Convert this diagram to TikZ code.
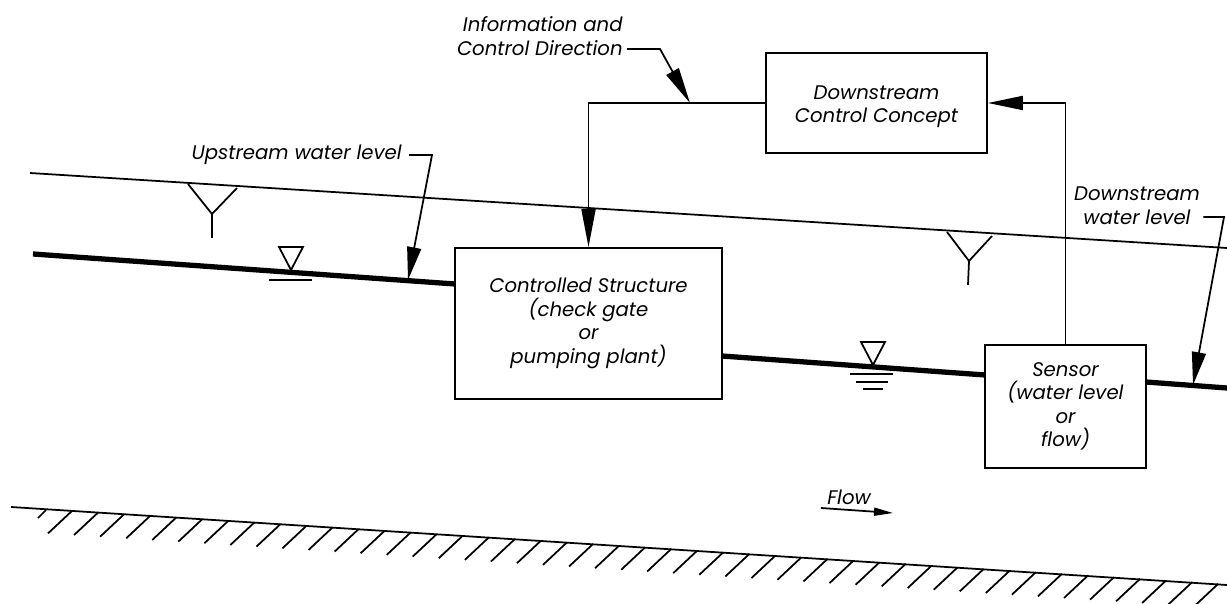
\documentclass[tikz,border=0pt]{standalone}
\usepackage{fontspec}
\setmainfont{Poppins}
\usetikzlibrary{arrows.meta,positioning,calc}

\begin{document}
\begin{tikzpicture}[x=0.02cm, y=-0.02cm,
    label/.style={font=\fontsize{11.2}{13.4}\selectfont\itshape, inner sep=0pt, align=center},
    blockbox/.style={draw, line width=1pt, inner sep=0pt, align=center,
        font=\fontsize{11.2}{13.4}\selectfont\itshape},
    thin line/.style={line width=1pt},
    water/.style={line width=3pt},
    arr/.style={-{Triangle[length=6.6mm, width=2.8mm]}, line width=1pt}]

    \useasboundingbox (0,0) rectangle (1227,604);

    % Blocks
    \node[blockbox, minimum width=5.34cm, minimum height=3.02cm] (gate) at (588.5,323.5)
        {Controlled Structure\\(check gate\\or\\pumping plant)};
    \node[blockbox, minimum width=4.42cm, minimum height=2cm] (ctrl) at (876.5,103)
        {\rule{0pt}{12.2pt}Downstream\\Control Concept};
    \node[blockbox, minimum width=3.22cm, minimum height=2.46cm] (sensor) at (1065.5,406.5)
        {Sensor\\(water level\\or\\flow)};

    % Labels
    \node[label, anchor=east, align=right] (infotext) at (623,36) {Information and\\Control Direction};
    \node[label, anchor=east] (uptext) at (402,155) {Upstream water level};
    \node[label] (dntext) at (1137,205.5) {Downstream\\water level};
    \node[label] (flowtext) at (849,497) {Flow};

    % Water surfaces
    \coordinate (upstart) at (33,254);
    \coordinate (upend) at (455,284);
    \coordinate (midstart) at (722,356);
    \coordinate (midend) at (985,375);
    \coordinate (dnstart) at (1146,382);
    \coordinate (dnend) at (1227,388);
    \draw[water] (upstart) -- (upend);
    \draw[water] (midstart) -- (midend);
    \draw[water] (dnstart) -- (dnend);

    % Energy line
    \coordinate (topstart) at (30,173);
    \coordinate (topend) at (1227,248);
    \draw[thin line] (topstart) -- (topend);
    \draw[thin line] (188,184) -- (212,214) -- (237,188) (212,214) -- (212,238);
    \draw[thin line] (947,232) -- (969,261) -- (992,236) (969,261) -- (968,285);

    % Level marks
    \draw[thin line] (279,247) -- (303,247) -- (291,270) -- cycle;
    \draw[thin line] (269,280) -- (312,280);
    \draw[thin line] (861,342) -- (885,342) -- (873,365) -- cycle;
    \draw[thin line] (850,374) -- (893,374) (856,382) -- (888,382) (863,389) -- (883,389);

    % Control loop
    \draw[arr, -{Triangle[length=7mm, width=2.8mm]}] (sensor.north) |- (ctrl.east);
    \draw[arr, -{Triangle[length=7.6mm, width=2.8mm]}] (ctrl.west) -| (gate.north);

    % Leaders
    \coordinate (infoknee) at (660,49);
    \coordinate (infotip) at (690,103);
    \coordinate (upknee) at (432,155);
    \coordinate (uptip) at (408,280);
    \coordinate (dnknee) at (1224,217);
    \coordinate (dntip) at (1193,385);
    \draw[arr, -{Triangle[length=7.2mm, width=2.8mm]}] (infotext.east |- infoknee) ++(4,0) -- (infoknee) -- (infotip);
    \draw[arr] (uptext.east) ++(7,0) -- (upknee) -- (uptip);
    \draw[arr] (dntext.east |- dnknee) ++(3,0) -- (dnknee) -- (dntip);

    % Flow arrow
    \coordinate (flowstart) at (821,508);
    \coordinate (flowtip) at (893,513);
    \draw[line width=1pt, -{Triangle[length=3.8mm, width=1.6mm]}] (flowstart) -- (flowtip);

    % Ground
    \coordinate (groundstart) at (11,507);
    \coordinate (groundend) at (1227,585);
    \draw[thin line] (groundstart) -- (groundend);
    \draw[thin line] (46,510) -- (38,518);
    \foreach \k in {1,...,45} {
        \draw[thin line] ({46+26.05*\k},{509.2+1.657*\k}) -- ++(-24,22.5);
    }
\end{tikzpicture}
\end{document}
